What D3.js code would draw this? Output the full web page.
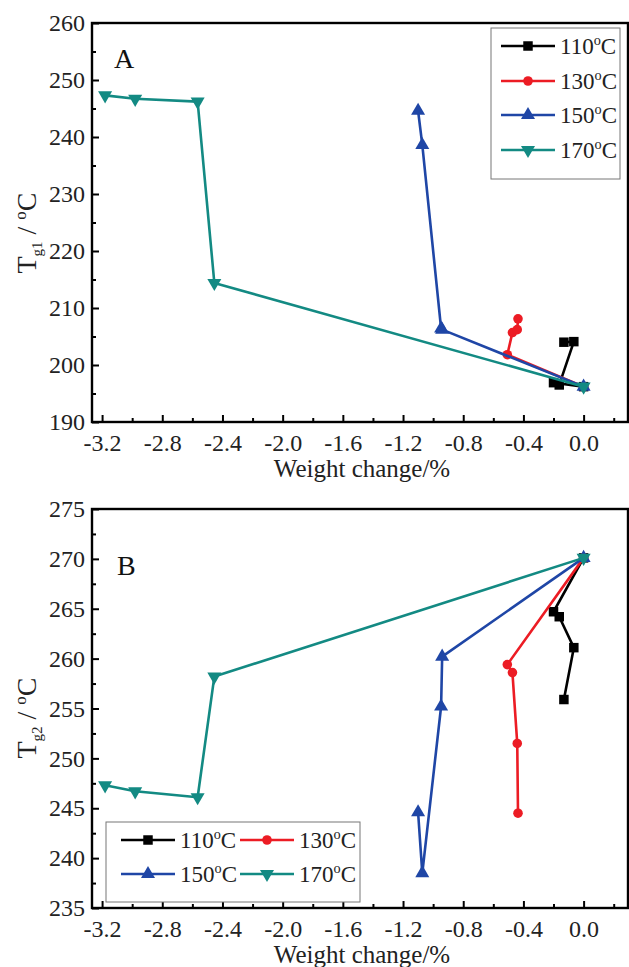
<!DOCTYPE html>
<html>
<head>
<meta charset="utf-8">
<script src="https://cdn.jsdelivr.net/npm/d3@7"></script>
<style>
  body { margin: 0; background: #fff; }
  svg text { font-family: "Times New Roman", Times, "Liberation Serif", "DejaVu Serif", serif; }
</style>
</head>
<body>
<svg id="chart" width="629" height="967"></svg>
<script>
// series names
const seriesNames = ["110", "130", "150", "170"];
// weight change (%) per sample, same for both panels
const w110 = [0, -0.20, -0.162, -0.065, -0.131];
const w130 = [0, -0.507, -0.473, -0.441, -0.436];
const w150 = [0, -0.94, -0.947, -1.072, -1.10];
const w170 = [0, -2.454, -2.565, -2.98, -3.18];
// Tg1 (panel A)
const tg1_110 = [196.2, 196.9, 196.5, 204.1, 204.0];
const tg1_130 = [196.2, 201.8, 205.7, 206.2, 208.1];
const tg1_150 = [196.2, 206.2, 206.4, 238.6, 244.6];
const tg1_170 = [196.2, 214.4, 246.2, 246.7, 247.3];
// Tg2 (panel B)
const tg2_110 = [270.1, 264.7, 264.2, 261.1, 255.9];
const tg2_130 = [270.1, 259.4, 258.6, 251.5, 244.5];
const tg2_150 = [270.1, 260.2, 255.2, 238.5, 244.6];
const tg2_170 = [270.1, 258.2, 246.1, 246.7, 247.3];
// ticks
const xTicks = [-3.2, -2.8, -2.4, -2.0, -1.6, -1.2, -0.8, -0.4, 0.0];
const xMinor = [-3.0, -2.6, -2.2, -1.8, -1.4, -1.0, -0.6, -0.2, 0.2];
const yTicksA = [190, 200, 210, 220, 230, 240, 250, 260];
const yMinorA = [195, 205, 215, 225, 235, 245, 255];
const yTicksB = [235, 240, 245, 250, 255, 260, 265, 270, 275];
const yMinorB = [237.5, 242.5, 247.5, 252.5, 257.5, 262.5, 267.5, 272.5];

const colors = ["#000000", "#ec1c24", "#1f46a6", "#138a83"];
const shapes = [d3.symbolSquare, d3.symbolCircle, d3.symbolTriangle, d3.symbolTriangle];
const sizes = [90, 72, 85, 85];
const rots = [0, 0, 0, 180];
const serif = '"Times New Roman", Times, "Liberation Serif", "DejaVu Serif", serif';

const svg = d3.select("#chart");
const left = 92, right = 628;

function supText(sel, num, fs) {
  sel.append("tspan").text(num);
  sel.append("tspan").attr("font-size", fs * 0.62).attr("dy", -fs * 0.38).text("o");
  sel.append("tspan").attr("dy", fs * 0.38).text("C");
}

function marker(g, i, x, y) {
  g.append("path")
    .attr("d", d3.symbol().type(shapes[i]).size(sizes[i]))
    .attr("transform", `translate(${x},${y}) rotate(${rots[i]})`)
    .attr("fill", colors[i]);
}

function drawPanel(opt) {
  const x = d3.scaleLinear().domain([-3.267, 0.295]).range([left, right]);
  const y = d3.scaleLinear().domain(opt.yDomain).range([opt.bottom, opt.top]);
  const g = svg.append("g");

  // series
  const ws = [w110, w130, w150, w170];
  opt.series.forEach((ys, i) => {
    const pts = ws[i].map((w, k) => [w, ys[k]]);
    g.append("path")
      .attr("d", d3.line().x(d => x(d[0])).y(d => y(d[1]))(pts))
      .attr("fill", "none").attr("stroke", colors[i]).attr("stroke-width", 2.6)
      .attr("stroke-linejoin", "round");
    pts.forEach(p => marker(g, i, x(p[0]), y(p[1])));
  });

  // frame
  g.append("rect").attr("x", left).attr("y", opt.top)
    .attr("width", right - left).attr("height", opt.bottom - opt.top)
    .attr("fill", "none").attr("stroke", "#000").attr("stroke-width", 2.4);

  // axes
  const xa = g.append("g").attr("transform", `translate(0,${opt.bottom})`)
    .call(d3.axisBottom(x).tickValues(xTicks).tickFormat(d3.format(".1f")).tickSize(-7).tickPadding(12));
  g.append("g").attr("transform", `translate(0,${opt.bottom})`)
    .call(d3.axisBottom(x).tickValues(xMinor).tickFormat("").tickSize(-4));
  g.append("g").attr("transform", `translate(${left},0)`)
    .call(d3.axisLeft(y).tickValues(opt.yTicks).tickSize(-7).tickPadding(7));
  g.append("g").attr("transform", `translate(${left},0)`)
    .call(d3.axisLeft(y).tickValues(opt.yMinor).tickFormat("").tickSize(-4));
  g.selectAll(".domain").remove();
  g.selectAll(".tick line").attr("stroke", "#000").attr("stroke-width", 2);
  g.selectAll(".tick text").attr("font-size", 24).attr("fill", "#222")
    .attr("font-family", serif);
  xa.selectAll(".tick text").text(d => d3.format(".1f")(d).replace("−", "-"));

  // titles
  g.append("text").attr("x", 362).attr("y", opt.bottom + 55)
    .attr("text-anchor", "middle").attr("font-size", 25).attr("fill", "#222").text("Weight change/%");
  const yt = g.append("text").attr("transform", `translate(36,${opt.ylabY}) rotate(-90)`)
    .attr("text-anchor", "middle").attr("font-size", 28).attr("fill", "#222");
  yt.append("tspan").text("T");
  yt.append("tspan").attr("font-size", 15).attr("dy", 6).text(opt.sub);
  yt.append("tspan").attr("dy", -6).text(" / ");
  yt.append("tspan").attr("font-size", 17).attr("dy", -10).text("o");
  yt.append("tspan").attr("dy", 10).text("C");

  g.append("text").attr("x", opt.letterX).attr("y", opt.letterY)
    .attr("font-size", 28).attr("fill", "#111").text(opt.letter);

  // legend
  const lg = g.append("g");
  lg.append("rect").attr("x", opt.legend.x).attr("y", opt.legend.y)
    .attr("width", opt.legend.w).attr("height", opt.legend.h)
    .attr("fill", "#fff").attr("stroke", "#777").attr("stroke-width", 1);
  opt.legend.items.forEach((it, i) => {
    lg.append("line").attr("x1", it.x).attr("x2", it.x + 54).attr("y1", it.y).attr("y2", it.y)
      .attr("stroke", colors[i]).attr("stroke-width", 2.6);
    marker(lg, i, it.x + 27, it.y);
    const t = lg.append("text").attr("x", it.x + 59).attr("y", it.y + 8)
      .attr("font-size", 23).attr("fill", "#222");
    supText(t, seriesNames[i], 23);
  });
}

drawPanel({
  top: 23, bottom: 422, yDomain: [190, 260], yTicks: yTicksA, yMinor: yMinorA,
  series: [tg1_110, tg1_130, tg1_150, tg1_170], sub: "g1", ylabY: 233,
  letter: "A", letterX: 114, letterY: 68,
  legend: { x: 491, y: 28, w: 129, h: 151,
    items: [{x: 501, y: 46}, {x: 501, y: 81}, {x: 501, y: 115}, {x: 501, y: 150}] }
});

drawPanel({
  top: 509, bottom: 908, yDomain: [235, 275], yTicks: yTicksB, yMinor: yMinorB,
  series: [tg2_110, tg2_130, tg2_150, tg2_170], sub: "g2", ylabY: 718,
  letter: "B", letterX: 117, letterY: 575,
  legend: { x: 106, y: 822, w: 254, h: 80,
    items: [{x: 121, y: 840}, {x: 240, y: 840}, {x: 121, y: 874}, {x: 240, y: 874}] }
});
</script>
</body>
</html>
